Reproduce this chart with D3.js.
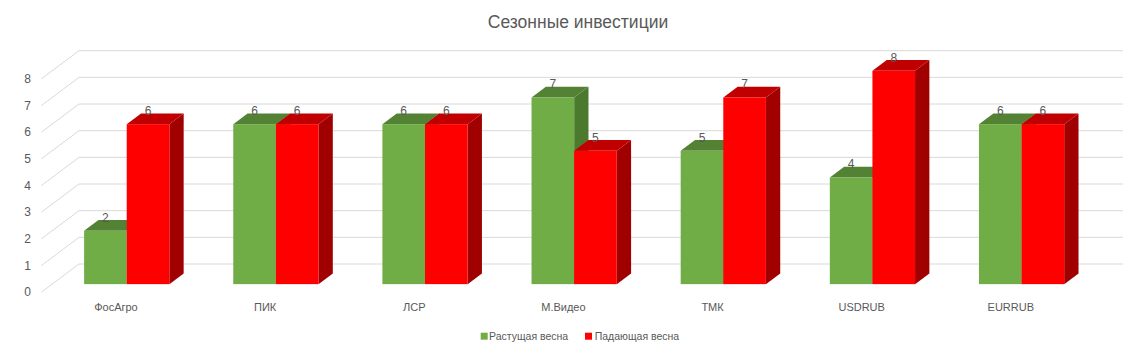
<!DOCTYPE html>
<html><head><meta charset="utf-8">
<script src="https://cdn.jsdelivr.net/npm/d3@7"></script>
<style>body{margin:0;background:#fff}svg{display:block}text{font-family:"Liberation Sans",Arial,sans-serif;fill:#595959}</style>
</head><body><svg id="c" width="1145" height="355"></svg>
<script>
const categories = ['ФосАгро','ПИК','ЛСР','М.Видео','ТМК','USDRUB','EURRUB'];
const seriesNames = ['Растущая весна','Падающая весна'];
const rising = [2,6,6,7,5,4,6];
const falling = [6,6,6,5,7,8,6];
const yTicks = [0,1,2,3,4,5,6,7,8];
const title = 'Сезонные инвестиции';

const colors = [
  {front:'#70AD47', top:'#548235', side:'#4B7A2E'},
  {front:'#FF0000', top:'#C00000', side:'#A00000'}
];

const svg = d3.select('#c');
const DX = -37.6, DY = 28.2;   // depth vector back->front
const zF = 0.714, zB = 0.333;  // bar front/back depth

const y = d3.scaleLinear().domain([0,8]).range([264, 50.7]);
const x0 = d3.scaleBand().domain(categories).range([79, 1123]).padding(0);
const x1 = d3.scaleBand().domain(seriesNames).range([0, x0.bandwidth()]).paddingInner(0).paddingOuter(0.75);

// title
svg.append('text').attr('x', 578).attr('y', 28).attr('text-anchor','middle')
  .style('font-size','17.5px').text(title);

// gridlines (back wall) and diagonals (side)
const g = svg.append('g');
yTicks.forEach(t => {
  g.append('line').attr('x1', x0.range()[0]).attr('x2', x0.range()[1])
    .attr('y1', y(t)).attr('y2', y(t)).attr('stroke','#d9d9d9').attr('stroke-width',1);
  g.append('line').attr('x1', x0.range()[0]).attr('y1', y(t))
    .attr('x2', x0.range()[0] + DX).attr('y2', y(t) + DY).attr('stroke','#d9d9d9').attr('stroke-width',1);
  g.append('text').attr('x', 31).attr('y', y(t) + DY + 4).attr('text-anchor','end')
    .style('font-size','12px').text(t);
});

// bars
const data = [rising, falling];
const bars = svg.append('g');
const dxz = (zF - zB) * DX, dyz = (zF - zB) * DY;
categories.forEach((c, i) => {
  seriesNames.forEach((s, k) => {
    const v = data[k][i];
    const xl = x0(c) + x1(s) + DX * zF;
    const w = x1.bandwidth();
    const yt = y(v) + DY * zF, yb = y(0) + DY * zF;
    const col = colors[k];
    bars.append('polygon').attr('fill', col.side).attr('points', [
      [xl + w, yt], [xl + w - dxz, yt - dyz], [xl + w - dxz, yb - dyz], [xl + w, yb]
    ].map(p => p.join(',')).join(' '));
    bars.append('polygon').attr('fill', col.top).attr('points', [
      [xl, yt], [xl + w, yt], [xl + w - dxz, yt - dyz], [xl - dxz, yt - dyz]
    ].map(p => p.join(',')).join(' '));
    bars.append('rect').attr('x', xl).attr('y', yt).attr('width', w).attr('height', yb - yt).attr('fill', col.front);
  });
});
// value labels
categories.forEach((c, i) => {
  seriesNames.forEach((s, k) => {
    const v = data[k][i];
    const xl = x0(c) + x1(s) + DX * zF;
    const yt = y(v) + DY * zF;
    svg.append('text').attr('x', xl + x1.bandwidth()/2).attr('y', yt - 9)
      .attr('text-anchor','middle').style('font-size','12px').text(v);
  });
});

// category labels
categories.forEach(c => {
  svg.append('text').attr('x', x0(c) + x0.bandwidth()/2 + DX).attr('y', 311)
    .attr('text-anchor','middle').style('font-size','11px').text(c);
});

// legend
const leg = [[480.7, 489], [585, 594.7]];
seriesNames.forEach((s, k) => {
  svg.append('rect').attr('x', leg[k][0]).attr('y', 332.7).attr('width', 7).attr('height', 7).attr('fill', colors[k].front);
  svg.append('text').attr('x', leg[k][1]).attr('y', 340).style('font-size','10.5px').text(s);
});
</script></body></html>
